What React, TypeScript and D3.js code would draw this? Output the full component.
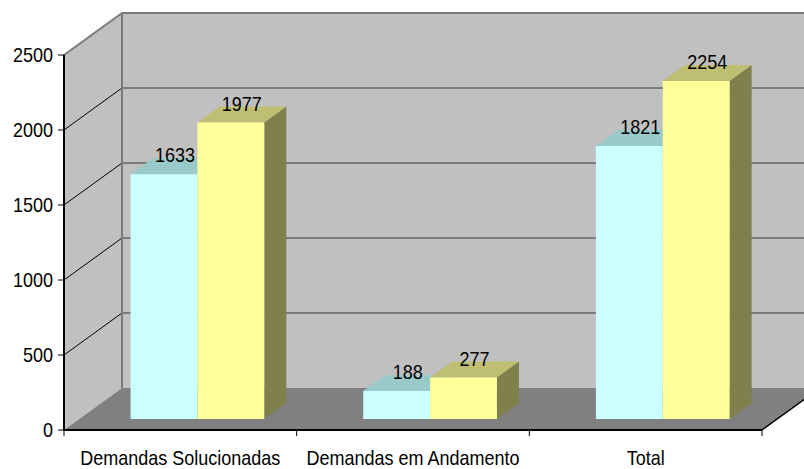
import React from "react";
import * as d3 from "d3";

const categories = ["Demandas Solucionadas", "Demandas em Andamento", "Total"];
const seriesKeys = ["s1", "s2"];
const s1Values = [1633, 188, 1821];
const s2Values = [1977, 277, 2254];
const yTicks = [0, 500, 1000, 1500, 2000, 2500];

const W = 804;
const H = 469;
const LEFT = 64;
const RIGHT = 762;
const BOTTOM = 430;
const TOP = 55;
const DX = 58;
const DY = 42;
const Z0 = 0.26;
const Z1 = 0.64;
const BAR_SHIFT = 2;

const FONT = "'Liberation Sans', Arial, sans-serif";

// faces per series: front, top, side
const faceColors = [
  {front: "#ccffff", top: "#99c9c9", side: "#668f8f"},
  {front: "#ffff99", top: "#bfbf73", side: "#80804d"},
];

const P = (x: number, y: number, z: number): [number, number] => [x + z * DX, y - z * DY];
const pts = (a: [number, number][]) => a.map((p) => p.join(",")).join(" ");

function Label(props: {x: number; y: number; anchor: string; children: any}) {
  // font looks a bit condensed in the reference
  return (
    <text
      transform={`translate(${props.x},${props.y}) scale(0.9,1)`}
      textAnchor={props.anchor}
      fontFamily={FONT}
      fontSize={20}
      fill="#000"
    >
      {props.children}
    </text>
  );
}

export default function App() {
  const y = d3.scaleLinear().domain([0, 2500]).range([BOTTOM, TOP]);
  const x = d3.scaleBand<string>().domain(categories).range([LEFT, RIGHT]).padding(0);
  const inner = d3
    .scaleBand<string>()
    .domain(seriesKeys)
    .range([0, x.bandwidth()])
    .paddingInner(0)
    .paddingOuter(0.74);

  const data = [s1Values, s2Values];

  const sideWall = pts([P(LEFT, y(2500), 0), P(LEFT, y(2500), 1), P(LEFT, y(0), 1), P(LEFT, y(0), 0)]);
  const backWall = pts([P(LEFT, y(2500), 1), P(RIGHT + 60, y(2500), 1), P(RIGHT + 60, y(0), 1), P(LEFT, y(0), 1)]);
  const floor = pts([P(LEFT, y(0), 0), P(LEFT, y(0), 1), P(RIGHT, y(0), 1), P(RIGHT, y(0), 0)]);

  return (
    <svg
      width={W}
      height={H}
      style={{position: "absolute", left: 0, top: 0, background: "#fff"}}
    >
      <polygon points={backWall} fill="#c0c0c0" />
      <polygon points={sideWall} fill="#c0c0c0" />
      <polygon points={floor} fill="#808080" />

      {/* back wall gridlines */}
      {yTicks.filter((t) => t > 0).map((t) => {
        const a = P(LEFT, y(t), 1);
        return (
          <line key={"bg" + t} x1={a[0]} y1={a[1]} x2={W + 20} y2={a[1]} stroke="#7a7a7a" strokeWidth={2} />
        );
      })}
      {/* side wall gridlines */}
      {yTicks.filter((t) => t > 0 && t < 2500).map((t) => {
        const a = P(LEFT, y(t), 0);
        const b = P(LEFT, y(t), 1);
        return <line key={"sg" + t} x1={a[0]} y1={a[1]} x2={b[0]} y2={b[1]} stroke="#000" strokeWidth={1} />;
      })}
      {/* frame edges */}
      <line x1={P(LEFT, y(2500), 0)[0]} y1={P(LEFT, y(2500), 0)[1]} x2={P(LEFT, y(2500), 1)[0]} y2={P(LEFT, y(2500), 1)[1]} stroke="#7a7a7a" strokeWidth={2} />
      <line x1={P(LEFT, y(2500), 1)[0]} y1={P(LEFT, y(2500), 1)[1]} x2={P(LEFT, y(0), 1)[0]} y2={P(LEFT, y(0), 1)[1]} stroke="#7a7a7a" strokeWidth={2} />
      <line x1={P(RIGHT, y(0), 0)[0]} y1={P(RIGHT, y(0), 0)[1]} x2={P(RIGHT, y(0), 1)[0]} y2={P(RIGHT, y(0), 1)[1]} stroke="#000" strokeWidth={1.5} />

      {/* bars */}
      {categories.map((c, i) =>
        seriesKeys.map((k, j) => {
          const v = data[j][i];
          const x0 = (x(c) as number) + (inner(k) as number) + BAR_SHIFT;
          const x1 = x0 + inner.bandwidth();
          const yv = y(v);
          const y0 = y(0);
          const col = faceColors[j];
          const lx = (x0 + x1) / 2 + ((Z0 + Z1) / 2) * DX;
          const ly = yv - ((Z0 + Z1) / 2) * DY - 4;
          return (
            <g key={c + k}>
              <polygon points={pts([P(x0, yv, Z0), P(x1, yv, Z0), P(x1, yv, Z1), P(x0, yv, Z1)])} fill={col.top} />
              <polygon points={pts([P(x1, yv, Z0), P(x1, yv, Z1), P(x1, y0, Z1), P(x1, y0, Z0)])} fill={col.side} />
              <polygon points={pts([P(x0, yv, Z0), P(x1, yv, Z0), P(x1, y0, Z0), P(x0, y0, Z0)])} fill={col.front} />
              <Label x={lx} y={ly} anchor="middle">{v}</Label>
            </g>
          );
        })
      )}

      {/* axes */}
      <line x1={LEFT} y1={y(2500)} x2={LEFT} y2={BOTTOM + 1} stroke="#000" strokeWidth={2} />
      <line x1={LEFT} y1={BOTTOM} x2={RIGHT} y2={BOTTOM} stroke="#000" strokeWidth={2} />
      {yTicks.map((t) => (
        <g key={"yt" + t}>
          <line x1={LEFT - 6} x2={LEFT} y1={y(t)} y2={y(t)} stroke="#000" strokeWidth={1} />
          <Label x={LEFT - 11} y={y(t) + 7} anchor="end">{t}</Label>
        </g>
      ))}
      {[LEFT, ...categories.map((c) => (x(c) as number) + x.bandwidth())].map((t, i) => (
        <line key={"xt" + i} x1={t} x2={t} y1={BOTTOM} y2={BOTTOM + 6} stroke="#000" strokeWidth={1} />
      ))}
      {categories.map((c) => (
        <Label key={"xl" + c} x={(x(c) as number) + x.bandwidth() / 2} y={465} anchor="middle">
          {c}
        </Label>
      ))}
    </svg>
  );
}
